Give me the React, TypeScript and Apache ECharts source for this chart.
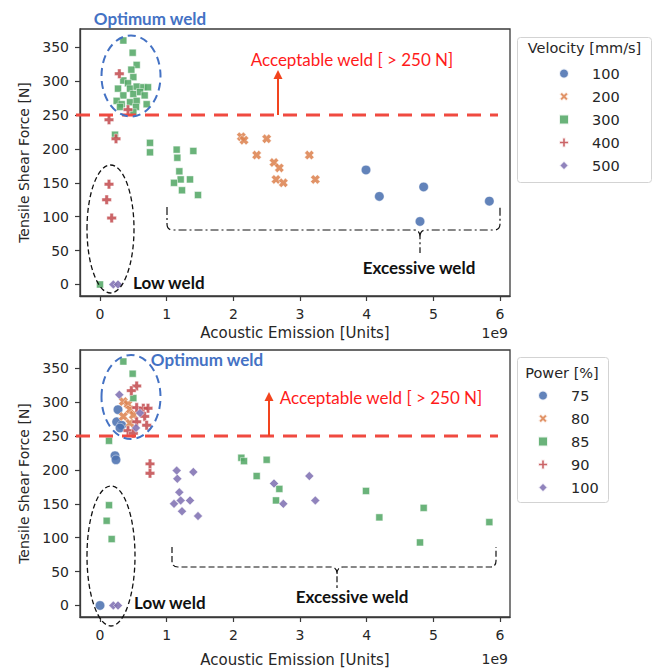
import React, { useEffect, useRef } from "react";
import * as echarts from "echarts";

// Acoustic emission in units of 1e9, tensile shear force in N
const acousticEmission = [
  0.0, 0.2, 0.27, 0.135, 0.1, 0.175,
  0.135, 0.225, 0.24,
  0.75, 0.75, 1.15, 1.16, 1.4, 1.19, 1.21, 1.11, 1.35, 1.23, 1.47,
  2.12, 2.16, 2.5, 2.35, 3.14, 2.61, 2.69, 2.64, 2.75, 3.23,
  3.99, 4.19, 4.855, 4.8, 5.84,
  0.35, 0.49, 0.55, 0.47, 0.29, 0.5, 0.35, 0.42, 0.27, 0.45, 0.55, 0.65, 0.72,
  0.35, 0.5, 0.6, 0.67, 0.25, 0.45, 0.55, 0.325, 0.54, 0.7, 0.42, 0.5, 0.3,
];
const shearForce = [
  0, 0, 0, 148, 125, 98,
  243, 221, 215,
  209, 195, 199, 187, 197, 167, 155, 150, 155, 139, 132,
  218, 213, 215, 191, 191, 180, 172, 155, 150, 155,
  169, 130, 144, 93, 123,
  360, 342, 324, 317, 311, 306, 301, 297, 289, 289, 292, 291, 291,
  279, 281, 284, 279, 271, 269, 271, 266, 262, 266, 258, 254, 262,
];
const velocity = [
  300, 500, 500, 400, 400, 400,
  400, 300, 400,
  300, 300, 300, 300, 300, 300, 300, 300, 300, 300, 300,
  200, 200, 200, 200, 200, 200, 200, 200, 200, 200,
  100, 100, 100, 100, 100,
  300, 300, 300, 300, 400, 300, 300, 300, 300, 300, 300, 300, 300,
  300, 300, 300, 300, 300, 300, 300, 300, 300, 300, 400, 300, 300,
];
const power = [
  75, 100, 100, 85, 85, 85,
  85, 75, 75,
  90, 90, 100, 100, 100, 100, 100, 100, 100, 100, 100,
  85, 85, 85, 85, 100, 100, 85, 85, 100, 100,
  85, 85, 85, 85, 85,
  85, 85, 90, 90, 100, 85, 80, 80, 75, 80, 90, 90, 90,
  80, 80, 100, 90, 75, 80, 90, 75, 100, 90, 90, 90, 75,
];

const velocityLevels = [100, 200, 300, 400, 500];
const powerLevels = [75, 80, 85, 90, 100];
const xTickValues = [0, 1, 2, 3, 4, 5, 6];
const yTickValues = [0, 50, 100, 150, 200, 250, 300, 350];
const threshold = 250;

const palette = ["#4C72B0", "#DD8452", "#55A868", "#C44E52", "#8172B3"];
const PLUS = "path://M3.2,0H6.8V3.2H10V6.8H6.8V10H3.2V6.8H0V3.2H3.2Z";
const CROSS =
  "path://M0,2.8L2.8,0L5,2.2L7.2,0L10,2.8L7.8,5L10,7.2L7.2,10L5,7.8L2.8,10L0,7.2L2.2,5Z";
const markers = [
  { symbol: "circle", size: 9.5 },
  { symbol: CROSS, size: 9.5 },
  { symbol: "rect", size: 7 },
  { symbol: PLUS, size: 9.5 },
  { symbol: "diamond", size: 9 },
];

echarts.graphic.registerShape(
  "bracketTop",
  echarts.graphic.extendPath(
    "M167,207 L167,224 Q167,230 173,230 L414,230 Q420,230 420,237 L420,253 M420,237 Q420,230 426,230 L494,230 Q500,230 500,224 L500,207",
    {}
  )
);
echarts.graphic.registerShape(
  "bracketBottom",
  echarts.graphic.extendPath(
    "M172,547 L172,561 Q172,567 178,567 L331,567 Q337,567 337,574 L337,588 M337,574 Q337,567 343,567 L490,567 Q496,567 496,561 L496,547",
    {}
  )
);

const GRID_LEFT = 80;
const GRID_W = 430;
const GRID_H = 267;
const GRID_TOPS = [29, 350];
const X_MIN = -0.3e9;
const X_MAX = 6.15e9;
const Y_MIN = -17;
const Y_MAX = 377;
const AXIS_COLOR = "#3a3a3a";
const TEXT_COLOR = "#262626";
const RED = "#f04a40";
const ARROW = "#f2441e";
const BLUE = "#4472c4";

const yPix = (g: number, v: number) =>
  GRID_TOPS[g] + ((Y_MAX - v) / (Y_MAX - Y_MIN)) * GRID_H;

const idx = acousticEmission.map((_, i) => i);

function buildSeries(key: number[], levels: number[], prefix: string, gi: number) {
  return levels.map((lv, i) => ({
    type: "scatter",
    name: prefix + lv,
    xAxisIndex: gi,
    yAxisIndex: gi,
    data: idx
      .filter((k) => key[k] === lv)
      .map((k) => [acousticEmission[k] * 1e9, shearForce[k]]),
    symbol: markers[i].symbol,
    symbolSize: markers[i].size,
    symbolKeepAspect: true,
    itemStyle: {
      color: palette[i],
      opacity: 0.88,
      borderColor: "#ffffff",
      borderWidth: 0.5,
    },
    emphasis: { disabled: true },
    z: 3,
  }));
}

function axisX(gi: number, gap: number) {
  return {
    type: "value",
    gridIndex: gi,
    min: X_MIN,
    max: X_MAX,
    name: "Acoustic Emission [Units]",
    nameLocation: "middle",
    nameGap: gap,
    nameTextStyle: { fontFamily: "DejaVu Sans", fontSize: 15, color: TEXT_COLOR },
    axisLine: { show: true, onZero: false, lineStyle: { color: AXIS_COLOR, width: 1.3 } },
    axisTick: {
      show: true,
      length: 5,
      customValues: xTickValues.map((v) => v * 1e9),
      lineStyle: { color: AXIS_COLOR, width: 1.2 },
    },
    axisLabel: {
      customValues: xTickValues.map((v) => v * 1e9),
      formatter: (v: number) => String(Math.round(v / 1e9)),
      fontFamily: "DejaVu Sans",
      fontSize: 14,
      color: TEXT_COLOR,
      margin: 11,
    },
    splitLine: { show: false },
  };
}

function axisY(gi: number) {
  return {
    type: "value",
    gridIndex: gi,
    min: Y_MIN,
    max: Y_MAX,
    name: "Tensile Shear Force [N]",
    nameLocation: "middle",
    nameRotate: 90,
    nameGap: 47,
    nameTextStyle: { fontFamily: "DejaVu Sans", fontSize: 14, color: TEXT_COLOR },
    axisLine: { show: true, onZero: false, lineStyle: { color: AXIS_COLOR, width: 1.3 } },
    axisTick: {
      show: true,
      length: 5,
      customValues: yTickValues,
      lineStyle: { color: AXIS_COLOR, width: 1.2 },
    },
    axisLabel: {
      customValues: yTickValues,
      fontFamily: "DejaVu Sans",
      fontSize: 14,
      color: TEXT_COLOR,
      margin: 11,
    },
    splitLine: { show: false },
  };
}

function legendFor(levels: number[], prefix: string, left: number, top: number) {
  return {
    data: levels.map((l) => prefix + l),
    formatter: (n: string) => n.slice(1),
    orient: "vertical",
    left,
    top,
    padding: 0,
    itemWidth: 10,
    itemHeight: 10,
    itemGap: 8,
    selectedMode: false,
    z: 10,
    textStyle: {
      fontFamily: "DejaVu Sans",
      fontSize: 14.5,
      color: TEXT_COLOR,
      lineHeight: 15,
      padding: [0, 0, 0, 18],
    },
  };
}

function annotations() {
  const g: any[] = [];
  g.push({
    type: "rect",
    z: 1,
    shape: { x: 517.5, y: 37.5, width: 134, height: 145, r: 3 },
    style: { fill: "#ffffff", stroke: "#d3d3d3", lineWidth: 1 },
  });
  g.push({
    type: "text",
    z: 2,
    style: {
      x: 584.5, y: 48, text: "Velocity [mm/s]", textAlign: "center", textVerticalAlign: "middle",
      font: "14.5px 'DejaVu Sans'", fill: TEXT_COLOR,
    },
  });
  g.push({
    type: "rect",
    z: 1,
    shape: { x: 517.5, y: 357.5, width: 91, height: 145, r: 3 },
    style: { fill: "#ffffff", stroke: "#d3d3d3", lineWidth: 1 },
  });
  g.push({
    type: "text",
    z: 2,
    style: {
      x: 562, y: 373, text: "Power [%]", textAlign: "center", textVerticalAlign: "middle",
      font: "14.5px 'DejaVu Sans'", fill: TEXT_COLOR,
    },
  });
  [333, 659].forEach((y) =>
    g.push({
      type: "text",
      z: 2,
      style: {
        x: 508, y, text: "1e9", textAlign: "right", textVerticalAlign: "middle",
        font: "14px 'DejaVu Sans'", fill: TEXT_COLOR,
      },
    })
  );
  const specs = [
    {
      gi: 0, arrowX: 278, arrowTip: 70,
      opt: { x: 150, y: 18 }, acc: { x: 352, y: 59 }, low: { x: 133, y: 282 }, exc: { x: 419, y: 267 },
      blue: { cx: 131, cy: 76, rx: 29.5, ry: 40.5 }, black: { cx: 110.5, cy: 229, rx: 23.5, ry: 64 },
      bracket: "bracketTop", dash: [8, 3, 2, 3],
    },
    {
      gi: 1, arrowX: 269, arrowTip: 392,
      opt: { x: 207, y: 359 }, acc: { x: 381, y: 397 }, low: { x: 134, y: 602 }, exc: { x: 352, y: 596 },
      blue: { cx: 131, cy: 397, rx: 29.5, ry: 42 }, black: { cx: 111, cy: 556, rx: 24, ry: 70 },
      bracket: "bracketBottom", dash: [6, 3],
    },
  ];
  specs.forEach((s) => {
    const ly = yPix(s.gi, threshold);
    g.push({
      type: "line",
      z: 50,
      shape: { x1: 76, y1: ly, x2: 498, y2: ly },
      style: { stroke: RED, lineWidth: 3, lineDash: [14, 9] },
    });
    g.push({
      type: "line",
      z: 50,
      shape: { x1: s.arrowX, y1: ly, x2: s.arrowX, y2: s.arrowTip + 7 },
      style: { stroke: ARROW, lineWidth: 2 },
    });
    g.push({
      type: "polygon",
      z: 50,
      shape: {
        points: [
          [s.arrowX, s.arrowTip],
          [s.arrowX - 4.5, s.arrowTip + 9],
          [s.arrowX + 4.5, s.arrowTip + 9],
        ],
      },
      style: { fill: ARROW },
    });
    g.push({
      type: "ellipse",
      z: 50,
      shape: s.blue,
      style: { fill: "none", stroke: BLUE, lineWidth: 2, lineDash: [8, 5] },
    });
    g.push({
      type: "ellipse",
      z: 50,
      shape: s.black,
      style: { fill: "none", stroke: "#111111", lineWidth: 1.3, lineDash: [5, 3] },
    });
    g.push({
      type: s.bracket,
      z: 50,
      x: 0,
      y: 0,
      style: { fill: "none", stroke: "#111111", lineWidth: 1.2, lineDash: s.dash },
    });
    g.push({
      type: "text",
      z: 51,
      style: {
        x: s.opt.x, y: s.opt.y, text: "Optimum weld", textAlign: "center", textVerticalAlign: "middle",
        font: "bold 17px Lato", fill: BLUE,
      },
    });
    g.push({
      type: "text",
      z: 51,
      style: {
        x: s.acc.x, y: s.acc.y, text: "Acceptable weld [ > 250 N]", textAlign: "center", textVerticalAlign: "middle",
        font: "17px Lato", fill: "#ff1a1a",
      },
    });
    g.push({
      type: "text",
      z: 51,
      style: {
        x: s.low.x, y: s.low.y, text: "Low weld", textAlign: "left", textVerticalAlign: "middle",
        font: "bold 17px Lato", fill: "#111111",
      },
    });
    g.push({
      type: "text",
      z: 51,
      style: {
        x: s.exc.x, y: s.exc.y, text: "Excessive weld", textAlign: "center", textVerticalAlign: "middle",
        font: "bold 17px Lato", fill: "#111111",
      },
    });
  });
  return g;
}

export default function App() {
  const ref = useRef<HTMLDivElement>(null);
  useEffect(() => {
    if (!ref.current) return;
    const chart = echarts.init(ref.current, null, { renderer: "svg" });
    const option: any = {
      animation: false,
      backgroundColor: "#ffffff",
      grid: GRID_TOPS.map((top) => ({
        left: GRID_LEFT,
        top,
        width: GRID_W,
        height: GRID_H,
        show: true,
        borderColor: AXIS_COLOR,
        borderWidth: 1.3,
        backgroundColor: "transparent",
      })),
      xAxis: [axisX(0, 29), axisX(1, 35)],
      yAxis: [axisY(0), axisY(1)],
      legend: [
        legendFor(velocityLevels, "v", 558, 66),
        legendFor(powerLevels, "p", 537, 388),
      ],
      series: [
        ...buildSeries(velocity, velocityLevels, "v", 0),
        ...buildSeries(power, powerLevels, "p", 1),
      ],
      graphic: { elements: annotations() },
    };
    chart.setOption(option);
    return () => chart.dispose();
  }, []);
  return (
    <div
      ref={ref}
      style={{ position: "fixed", left: 0, top: 0, width: 654, height: 669 }}
    />
  );
}
